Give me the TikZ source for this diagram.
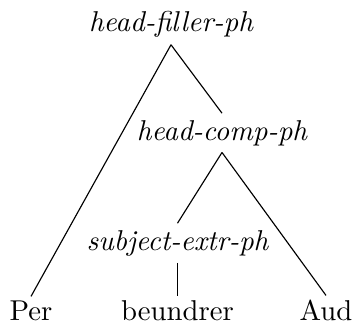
\documentclass[tikz,border=0pt]{standalone}
\begin{document}
\begin{tikzpicture}[x=0.3484pt,y=-0.3484pt,
    phrase/.style={font=\itshape, inner sep=2.2pt, anchor=base},
    word/.style={inner xsep=2pt, inner ysep=1.2pt, anchor=base}]

      \useasboundingbox (0,0) rectangle (355,324);

      % The phrase labels, top down.
      \node[phrase] (hf) at (171,32) {head-filler-ph};
      \node[phrase] (hc) at (222,140) {head-comp-ph};
      \node[phrase] (se) at (177.5,250) {subject-extr-ph};

      % The words along the bottom.
      \node[word] (per) at (31,320) {Per};
      \node[word] (beundrer) at (177.5,320) {beundrer};
      \node[word] (aud) at (326,320) {Aud};

      % Branches of the tree.
      \draw (hf.south) -- (per.north);
      \draw (hf.south) -- (hc.north);
      \draw (hc.south) -- (se.north);
      \draw (hc.south) -- (aud.north);
      \draw (se.south) -- (beundrer.north);
\end{tikzpicture}
\end{document}
